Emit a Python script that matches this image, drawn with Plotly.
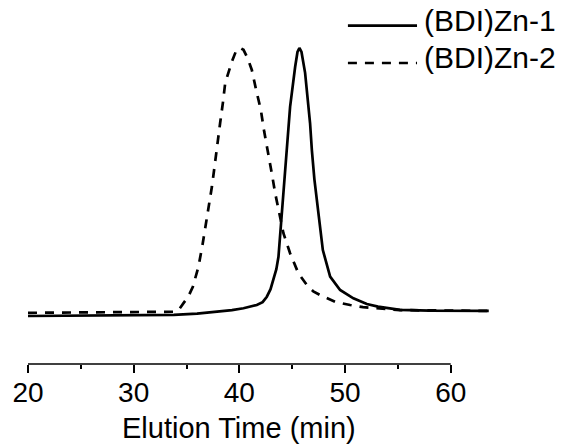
import plotly.graph_objects as go

# ---- data ----
series_names = ["(BDI)Zn-1", "(BDI)Zn-2"]

time_zn1 = [20.0, 25.0, 30.0, 33.8, 36.0, 38.2, 39.3, 40.39, 41.65, 42.2, 42.6,
            42.95, 43.22, 43.5, 43.70, 43.92, 44.11, 44.43, 44.80, 45.28, 45.5,
            45.68, 45.88, 46.22, 46.69, 46.86, 47.1, 47.52, 47.90, 48.59, 49.53,
            50.79, 52.06, 53.12, 55.2, 58.0, 63.6]
signal_zn1 = [0.000, 0.001, 0.002, 0.004, 0.009, 0.017, 0.022, 0.029, 0.041, 0.052, 0.072,
              0.100, 0.134, 0.175, 0.221, 0.333, 0.455, 0.619, 0.780, 0.930, 0.985,
              1.000, 0.985, 0.907, 0.720, 0.619, 0.510, 0.371, 0.246, 0.147, 0.097,
              0.066, 0.045, 0.035, 0.023, 0.020, 0.019]

time_zn2 = [20.0, 25.0, 30.0, 32.5, 33.8, 34.3, 34.7, 35.2, 35.6, 36.13, 36.51,
            36.83, 37.17, 37.40, 37.65, 37.87, 38.18, 38.44, 38.66, 39.29, 39.7,
            40.08, 40.39, 40.8, 41.18, 41.59, 42.03, 42.35, 42.75, 43.07, 43.39,
            43.86, 44.17, 44.80, 45.59, 46.4, 47.0, 47.8, 49.06, 50.48, 51.7,
            55.2, 60.0, 63.6]
signal_zn2 = [0.012, 0.013, 0.013, 0.014, 0.016, 0.025, 0.047, 0.075, 0.109, 0.184, 0.265,
              0.340, 0.422, 0.482, 0.557, 0.632, 0.720, 0.795, 0.869, 0.949, 0.990,
              1.000, 0.993, 0.960, 0.918, 0.843, 0.769, 0.688, 0.607, 0.532, 0.458,
              0.371, 0.309, 0.234, 0.159, 0.115, 0.092, 0.075, 0.053, 0.041, 0.033,
              0.022, 0.019, 0.019]

x_tick_values = [20, 30, 40, 50, 60]
x_tick_labels = ["20", "30", "40", "50", "60"]
x_minor_ticks = [25, 35, 45, 55]
x_axis_title = "Elution Time (min)"

FONT = "Liberation Sans, Arial, sans-serif"
LINE_W = 2.7
DASH = "9px,8px"

fig = go.Figure()
fig.add_trace(go.Scatter(x=time_zn1, y=signal_zn1, mode="lines", name=series_names[0],
                         line=dict(color="black", width=LINE_W), showlegend=False))
fig.add_trace(go.Scatter(x=time_zn2, y=signal_zn2, mode="lines", name=series_names[1],
                         line=dict(color="black", width=LINE_W, dash=DASH), showlegend=False))

# the page body adds an 8px offset, so the margins are shifted by 8px to compensate
fig.update_layout(
    width=566, height=444,
    margin=dict(l=20, r=81, t=22, b=88, pad=0, autoexpand=False),
    paper_bgcolor="white", plot_bgcolor="white",
    font=dict(family=FONT, size=28, color="black"),
    showlegend=False,
    xaxis=dict(range=[20, 64], tickvals=x_tick_values, ticktext=x_tick_labels,
               automargin=False,
               ticks="outside", ticklen=8, tickwidth=1.5, tickcolor="black",
               ticklabelstandoff=-5,
               showline=False, showgrid=False, zeroline=False,
               tickfont=dict(family=FONT, size=28, color="black"),
               minor=dict(tickvals=x_minor_ticks, ticks="outside", ticklen=4,
                          tickwidth=1.5, tickcolor="black", showgrid=False)),
    yaxis=dict(range=[-0.179, 1.067], visible=False, automargin=False,
               showgrid=False, zeroline=False),
)

# axis line only across the labelled range (data runs past it, as in the reference)
fig.add_shape(type="line", xref="x", yref="paper",
              x0=x_tick_values[0], x1=x_tick_values[-1], y0=0, y1=0,
              line=dict(color="black", width=1.5))

fig.add_annotation(text=x_axis_title, xref="x", yref="paper",
                   x=(x_tick_values[0] + x_tick_values[-1]) / 2, y=-0.1916,
                   xanchor="center", yanchor="middle", showarrow=False,
                   font=dict(family=FONT, size=29, color="black"))

# legend (drawn with shapes + text so it sits exactly where the reference has it)
legend_rows = [(1.0129, None), (0.9012, DASH)]
for name, (ly, dash) in zip(series_names, legend_rows):
    fig.add_shape(type="line", xref="paper", yref="paper",
                  x0=0.688, x1=0.8366, y0=ly, y1=ly,
                  line=dict(color="black", width=LINE_W, dash=dash))
    fig.add_annotation(text=name, xref="paper", yref="paper",
                       x=0.8473, y=ly + 0.015, xanchor="left", yanchor="middle",
                       showarrow=False,
                       font=dict(family=FONT, size=30, color="black"))

fig.write_html("out.html")
